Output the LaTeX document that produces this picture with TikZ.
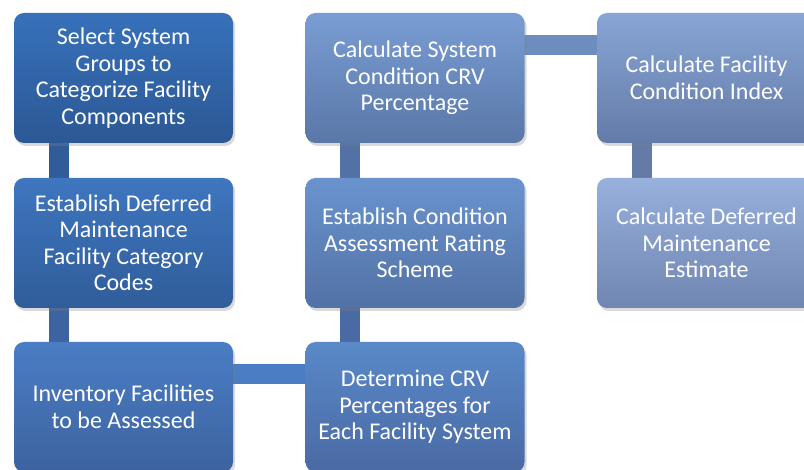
\documentclass[tikz,border=0pt]{standalone}
\usepackage{fontspec}
\setmainfont{Carlito}
\usetikzlibrary{shadows,backgrounds}

\definecolor{selecttop}{HTML}{3771BA}
\definecolor{selectbot}{HTML}{2C5895}
\definecolor{establishtop}{HTML}{3E76BF}
\definecolor{establishbot}{HTML}{305D9A}
\definecolor{inventorytop}{HTML}{4A7DC4}
\definecolor{inventorybot}{HTML}{3D63A0}
\definecolor{determinetop}{HTML}{5989C8}
\definecolor{determinebot}{HTML}{4A6AA4}
\definecolor{ratingtop}{HTML}{6A93CE}
\definecolor{ratingbot}{HTML}{5272A6}
\definecolor{crvtop}{HTML}{799DD3}
\definecolor{crvbot}{HTML}{5A77A8}
\definecolor{fcitop}{HTML}{87A5D5}
\definecolor{fcibot}{HTML}{647BA8}
\definecolor{dmtop}{HTML}{97B0DC}
\definecolor{dmbot}{HTML}{7085B2}

\begin{document}
\begin{tikzpicture}[x=1pt, y=-1pt,
    stepbox/.style 2 args={rectangle, rounded corners=10pt, minimum width=219pt, minimum height=130pt,
        top color=#1, bottom color=#2, text=white, align=center, font=\fontsize{24}{26.5}\selectfont,
        drop shadow={shadow xshift=2pt, shadow yshift=-3pt, opacity=0.3}},
    bar/.style={line width=20pt, draw=#1}]
    \clip (0,0) rectangle (804,470);

    \node[stepbox={selecttop}{selectbot}] (select) at (123.5,78) {Select System\\Groups to\\Categorize Facility\\Components} ;
    \node[stepbox={establishtop}{establishbot}] (codes) at (123.5,243) {Establish Deferred\\Maintenance\\Facility Category\\Codes} ;
    \node[stepbox={inventorytop}{inventorybot}] (inventory) at (123.5,407) {Inventory Facilities\\to be Assessed} ;
    \node[stepbox={determinetop}{determinebot}] (determine) at (415,407) {Determine CRV\\Percentages for\\Each Facility System} ;
    \node[stepbox={ratingtop}{ratingbot}] (rating) at (415,243) {Establish Condition\\Assessment Rating\\Scheme} ;
    \node[stepbox={crvtop}{crvbot}] (crv) at (415,78) {Calculate System\\Condition CRV\\Percentage} ;
    \node[stepbox={fcitop}{fcibot}] (fci) at (706.5,78) {Calculate Facility\\Condition Index} ;
    \node[stepbox={dmtop}{dmbot}] (dm) at (706.5,243) {Calculate Deferred\\Maintenance\\Estimate} ;

    \begin{pgfonlayer}{background}
        \draw[bar=establishbot] ([xshift=45pt]select.west) -- ([xshift=45pt]codes.west) ;
        \draw[bar=inventorybot] ([xshift=45pt]codes.west) -- ([xshift=45pt]inventory.west) ;
        \draw[bar=inventorytop] ([yshift=-32pt]inventory.north) -- ([yshift=-32pt]determine.north) ;
        \draw[bar=determinebot] ([xshift=45pt]determine.west) -- ([xshift=45pt]rating.west) ;
        \draw[bar=ratingbot] ([xshift=45pt]rating.west) -- ([xshift=45pt]crv.west) ;
        \draw[bar=crvtop!90!black] ([yshift=-32pt]crv.north) -- ([yshift=-32pt]fci.north) ;
        \draw[bar=fcibot] ([xshift=45pt]fci.west) -- ([xshift=45pt]dm.west) ;
    \end{pgfonlayer}
\end{tikzpicture}
\end{document}
